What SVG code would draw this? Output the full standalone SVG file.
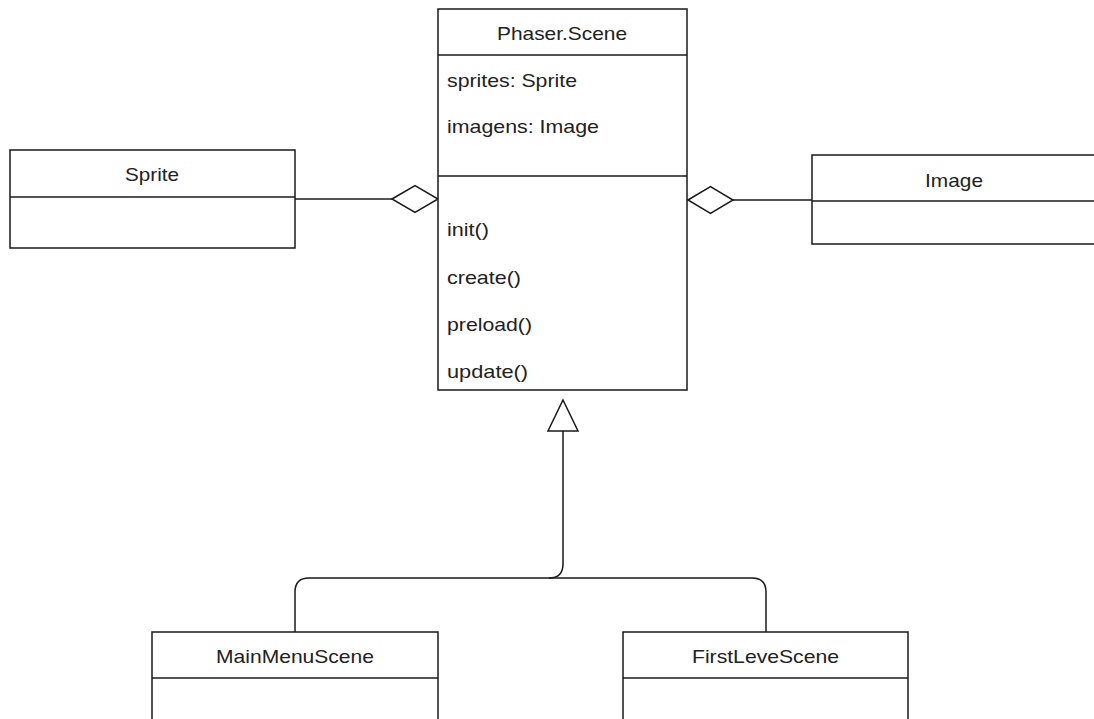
<svg xmlns="http://www.w3.org/2000/svg" width="1094" height="719" viewBox="0 0 1094 719">
  <style>
    .box { fill: #ffffff; stroke: #1a1a1a; stroke-width: 1.5; }
    .sep { stroke: #1a1a1a; stroke-width: 1.5; fill: none; }
    .edge { stroke: #1a1a1a; stroke-width: 1.5; fill: none; }
    .head { fill: #ffffff; stroke: #1a1a1a; stroke-width: 1.5; stroke-linejoin: miter; }
    text { font-family: "Liberation Sans", Arial, sans-serif; font-size: 18.5px; fill: #222222; }
    .c { text-anchor: middle; }
  </style>
  <rect width="1094" height="719" fill="#ffffff"/>

  <!-- Connectors: aggregations and generalization -->
  <g id="connectors">
    <line class="edge" x1="295" y1="199" x2="392" y2="199"/>
    <polygon class="head" points="392,199 415,185.5 438,199 415,212.5"/>
    <line class="edge" x1="733" y1="200" x2="812" y2="200"/>
    <polygon class="head" points="688,200 710.5,186.5 733,200 710.5,213.5"/>
    <path class="edge" d="M295,632 V592 Q295,578 309,578 H752 Q766,578 766,592 V632"/>
    <path class="edge" d="M563,431 V564 Q563,578 549,578"/>
    <polygon class="head" points="563,400 578,431 548,431"/>
  </g>

  <g id="phaser-scene">
    <rect class="box" x="438" y="9" width="249" height="381"/>
    <line class="sep" x1="438" y1="55" x2="687" y2="55"/>
    <line class="sep" x1="438" y1="176" x2="687" y2="176"/>
    <text class="c" x="562" y="40" textLength="130" lengthAdjust="spacingAndGlyphs">Phaser.Scene</text>
    <text x="447" y="87" textLength="130" lengthAdjust="spacingAndGlyphs">sprites: Sprite</text>
    <text x="447" y="133" textLength="152" lengthAdjust="spacingAndGlyphs">imagens: Image</text>
    <text x="447" y="236" textLength="42" lengthAdjust="spacingAndGlyphs">init()</text>
    <text x="447" y="284" textLength="74" lengthAdjust="spacingAndGlyphs">create()</text>
    <text x="447" y="331" textLength="85" lengthAdjust="spacingAndGlyphs">preload()</text>
    <text x="447" y="378" textLength="81" lengthAdjust="spacingAndGlyphs">update()</text>
  </g>

  <g id="sprite">
    <rect class="box" x="10" y="150" width="285" height="98"/>
    <line class="sep" x1="10" y1="197" x2="295" y2="197"/>
    <text class="c" x="152" y="181" textLength="54" lengthAdjust="spacingAndGlyphs">Sprite</text>
  </g>

  <g id="image">
    <rect class="box" x="812" y="155" width="284" height="89"/>
    <line class="sep" x1="812" y1="201" x2="1096" y2="201"/>
    <text class="c" x="954" y="187" textLength="58" lengthAdjust="spacingAndGlyphs">Image</text>
  </g>

  <g id="main-menu-scene">
    <rect class="box" x="152" y="632" width="286" height="100"/>
    <line class="sep" x1="152" y1="678" x2="438" y2="678"/>
    <text class="c" x="295" y="663" textLength="158" lengthAdjust="spacingAndGlyphs">MainMenuScene</text>
  </g>

  <g id="first-level-scene">
    <rect class="box" x="623" y="632" width="285" height="100"/>
    <line class="sep" x1="623" y1="678" x2="908" y2="678"/>
    <text class="c" x="765.5" y="663" textLength="147" lengthAdjust="spacingAndGlyphs">FirstLeveScene</text>
  </g>
</svg>
